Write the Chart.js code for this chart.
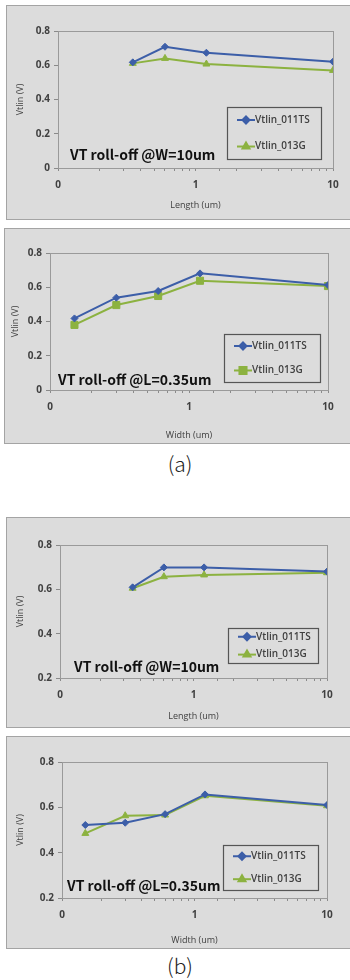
<!DOCTYPE html>
<html>
<head>
<meta charset="utf-8">
<script src="https://cdn.jsdelivr.net/npm/chart.js@4"></script>
<style>
  body { margin: 0; width: 350px; height: 980px; background: #fff; position: relative; overflow: hidden; }
  .panel { position: absolute; box-sizing: border-box; background: #dcdcdc; border: 1.5px solid #a4a4a4; }
  canvas { position: absolute; left: 0; }
  .cap { position: absolute; left: 0; width: 360px; text-align: center; font-family: "Noto Sans CJK KR", sans-serif; font-weight: 300; font-size: 21px; color: #222; }
</style>
</head>
<body>
<div class="panel" style="left:6px;top:5px;width:350px;height:215px"></div>
<div class="panel" style="left:4px;top:228px;width:350px;height:216px"></div>
<div class="panel" style="left:6px;top:517px;width:350px;height:211px"></div>
<div class="panel" style="left:6px;top:736px;width:350px;height:213px"></div>
<div class="cap" style="top:448px">(a)</div>
<div class="cap" style="top:950px">(b)</div>
<canvas id="c1"></canvas>
<canvas id="c2"></canvas>
<canvas id="c3"></canvas>
<canvas id="c4"></canvas>
<script>
// x values (um)
const lengths = [0.35, 0.6, 1.2, 10];
const widths = [0.15, 0.3, 0.6, 1.2, 10];

// (a) Vtlin (V)
const aLen011TS = [0.617, 0.708, 0.673, 0.621];
const aLen013G = [0.611, 0.640, 0.607, 0.570];
const aWid011TS = [0.418, 0.539, 0.578, 0.681, 0.613];
const aWid013G = [0.380, 0.496, 0.549, 0.638, 0.607];

// (b) Vtlin (V)
const bLen011TS = [0.609, 0.699, 0.699, 0.680];
const bLen013G = [0.605, 0.657, 0.665, 0.675];
const bWid011TS = [0.522, 0.532, 0.570, 0.657, 0.610];
const bWid013G = [0.485, 0.563, 0.566, 0.651, 0.607];

const seriesNames = ['Vtlin_011TS', 'Vtlin_013G'];
const yTicksA = [0, 0.2, 0.4, 0.6, 0.8];
const yTicksB = [0.2, 0.4, 0.6, 0.8];

const BLUE = '#3c5ea8';
const GREEN = '#8cb240';
const TXT = '#404040';

// draws the plot border, the boxed legend and the note text
const framePlugin = {
    id: 'frame',
    afterDraw(chart, args, opts) {
        const ctx = chart.ctx;
        const a = chart.chartArea;
        ctx.save();
        ctx.strokeStyle = '#9a9a9a';
        ctx.lineWidth = 1;
        ctx.strokeRect(a.left + 0.5, a.top + 0.5, a.right - a.left, a.bottom - a.top);

        // legend box
        const L = opts.legend;
        ctx.strokeStyle = '#555';
        ctx.lineWidth = 1.2;
        ctx.strokeRect(L.x + 0.5, L.y + 0.5, L.w, L.h);
        const rows = [L.y + L.h * 0.25, L.y + L.h * 0.76];
        chart.data.datasets.forEach((ds, i) => {
            const y = rows[i];
            ctx.strokeStyle = ds.borderColor;
            ctx.lineWidth = 2;
            ctx.beginPath();
            ctx.moveTo(L.x + 10, y);
            ctx.lineTo(L.x + 28, y);
            ctx.stroke();
            Chart.helpers.drawPoint(ctx, {
                pointStyle: ds.pointStyle, radius: ds.pointRadius, borderWidth: 1
            }, L.x + 19, y);
            ctx.fillStyle = ds.borderColor;
            ctx.fill();
            ctx.fillStyle = TXT;
            ctx.font = '600 10px "Open Sans", sans-serif';
            ctx.textBaseline = 'middle';
            ctx.textAlign = 'left';
            ctx.fillText(ds.label, L.x + 28, y);
        });

        // note
        ctx.fillStyle = '#111';
        ctx.font = 'bold 14px "Noto Sans CJK KR", sans-serif';
        ctx.textBaseline = 'middle';
        ctx.fillText(opts.note.text, opts.note.x, opts.note.y);
        ctx.restore();
    }
};

function pts(xs, ys) {
    return xs.map((x, i) => ({ x: x, y: ys[i] }));
}

function makeChart(id, f) {
    const cv = document.getElementById(id);
    cv.width = 350;
    cv.height = f.height;
    cv.style.top = f.top + 'px';
    const bottom = f.top + f.height;
    const padLeft = f.yTitleX - 9.4;
    const padBottom = bottom - (f.xTitleY + 9.4);
    const greenSquare = f.greenStyle === 'rect';

    new Chart(cv.getContext('2d'), {
        type: 'line',
        data: {
            datasets: [
                {
                    label: seriesNames[0],
                    data: pts(f.xs, f.s1),
                    borderColor: BLUE,
                    backgroundColor: BLUE,
                    borderWidth: 2,
                    pointStyle: 'rectRot',
                    pointRadius: 3.5,
                    pointBorderWidth: 1,
                    tension: 0
                },
                {
                    label: seriesNames[1],
                    data: pts(f.xs, f.s2),
                    borderColor: GREEN,
                    backgroundColor: GREEN,
                    borderWidth: 2,
                    pointStyle: f.greenStyle,
                    pointRadius: greenSquare ? 5 : 4,
                    pointBorderWidth: 1,
                    tension: 0
                }
            ]
        },
        options: {
            responsive: false,
            animation: false,
            devicePixelRatio: 1,
            layout: {
                padding: {
                    left: padLeft,
                    right: 350 - f.plotRight,
                    top: f.plotTop - f.top,
                    bottom: padBottom
                }
            },
            plugins: {
                legend: { display: false },
                tooltip: { enabled: false },
                frame: {
                    legend: {
                        x: f.legend[0], y: f.legend[1] - f.top,
                        w: f.legend[2] - f.legend[0], h: f.legend[3] - f.legend[1]
                    },
                    note: { text: f.note, x: f.noteX, y: f.noteY - f.top }
                }
            },
            scales: {
                x: {
                    type: 'logarithmic',
                    min: 0.1,
                    max: 10,
                    afterFit: s => { s.height = (f.xTitleY + 9.4) - f.plotBottom; },
                    border: { color: '#8a8a8a' },
                    grid: { drawOnChartArea: false, tickLength: 3, color: '#8a8a8a' },
                    ticks: {
                        autoSkip: false,
                        maxRotation: 0,
                        padding: 8,
                        color: TXT,
                        font: { family: '"Open Sans", sans-serif', size: 10, weight: 'bold' },
                        callback: v => {
                            const l = Math.log10(v);
                            if (Math.abs(l - Math.round(l)) > 1e-6) return '';
                            return v < 1 ? '0' : String(Math.round(v));
                        }
                    },
                    title: {
                        display: true,
                        text: f.xTitle,
                        color: TXT,
                        font: { family: '"Open Sans", sans-serif', size: 9 }
                    }
                },
                y: {
                    min: f.yTicks[0],
                    max: f.yTicks[f.yTicks.length - 1],
                    afterFit: s => { s.width = f.plotLeft - padLeft; },
                    afterBuildTicks: s => { s.ticks = f.yTicks.map(v => ({ value: v })); },
                    border: { color: '#8a8a8a' },
                    grid: { drawOnChartArea: false, tickLength: 4, color: '#8a8a8a' },
                    ticks: {
                        padding: 4,
                        color: TXT,
                        font: { family: '"Open Sans", sans-serif', size: 10, weight: 'bold' },
                        callback: v => v === 0 ? '0' : v.toFixed(1)
                    },
                    title: {
                        display: true,
                        text: 'Vtlin (V)',
                        color: TXT,
                        font: { family: '"Open Sans", sans-serif', size: 9 }
                    }
                }
            }
        },
        plugins: [framePlugin]
    });
}

makeChart('c1', {
    top: 6, height: 220,
    plotLeft: 58, plotRight: 333, plotTop: 31, plotBottom: 168,
    yTitleX: 20, xTitleY: 205,
    xs: lengths, s1: aLen011TS, s2: aLen013G, greenStyle: 'triangle',
    yTicks: yTicksA, xTitle: 'Length (um)',
    legend: [227, 107, 321, 159],
    note: 'VT roll-off @W=10um', noteX: 70, noteY: 155
});

makeChart('c2', {
    top: 229, height: 220,
    plotLeft: 50, plotRight: 328, plotTop: 253, plotBottom: 390,
    yTitleX: 15, xTitleY: 435,
    xs: widths, s1: aWid011TS, s2: aWid013G, greenStyle: 'rect',
    yTicks: yTicksA, xTitle: 'Width (um)',
    legend: [224, 334, 320, 382],
    note: 'VT roll-off @L=0.35um', noteX: 58, noteY: 380
});

makeChart('c3', {
    top: 518, height: 215,
    plotLeft: 60, plotRight: 327, plotTop: 545, plotBottom: 678,
    yTitleX: 20, xTitleY: 716,
    xs: lengths, s1: bLen011TS, s2: bLen013G, greenStyle: 'triangle',
    yTicks: yTicksB, xTitle: 'Length (um)',
    legend: [228, 628, 318, 663],
    note: 'VT roll-off @W=10um', noteX: 74, noteY: 667
});

makeChart('c4', {
    top: 737, height: 215,
    plotLeft: 62, plotRight: 327, plotTop: 762, plotBottom: 898,
    yTitleX: 20, xTitleY: 940,
    xs: widths, s1: bWid011TS, s2: bWid013G, greenStyle: 'triangle',
    yTicks: yTicksB, xTitle: 'Width (um)',
    legend: [223, 845, 318, 890],
    note: 'VT roll-off @L=0.35um', noteX: 67, noteY: 886
});
</script>
</body>
</html>
